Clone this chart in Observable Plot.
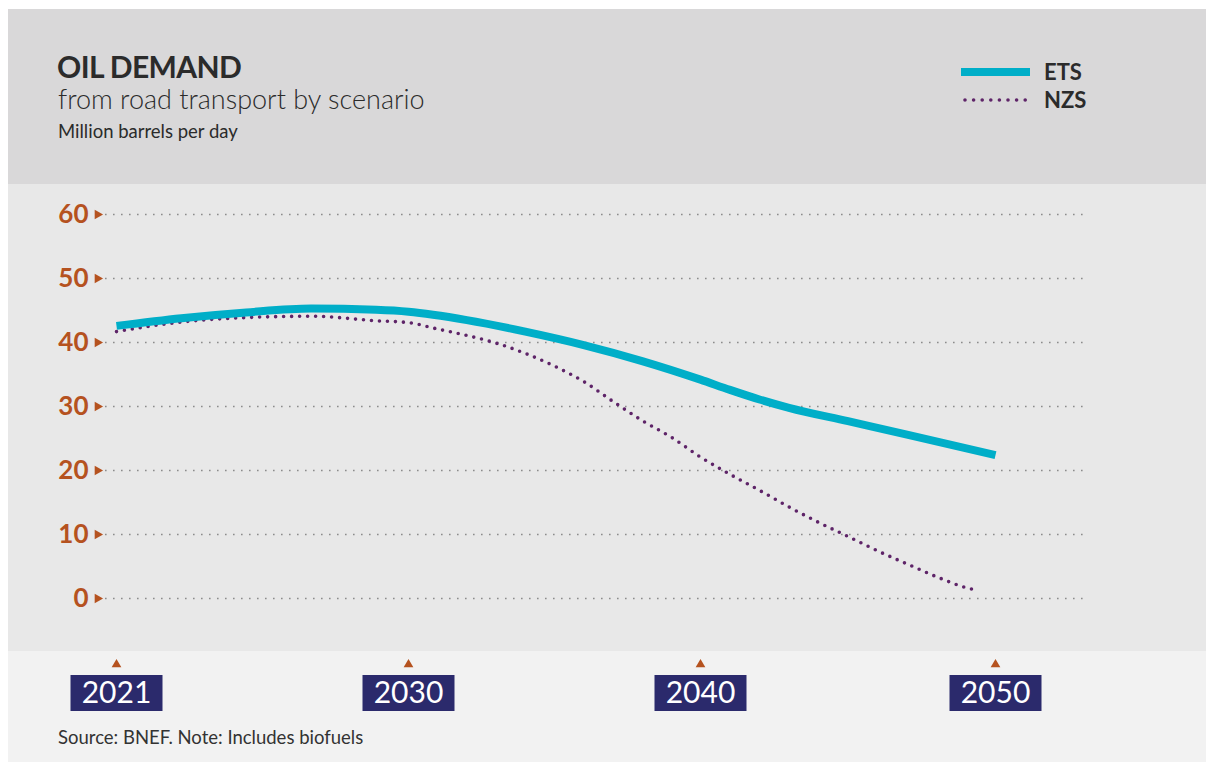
<!DOCTYPE html>
<html>
<head>
<meta charset="utf-8">
<script src="https://cdn.jsdelivr.net/npm/d3@7"></script>
<script src="https://cdn.jsdelivr.net/npm/@observablehq/plot@0.6"></script>
<style>
  body { margin: 0; background: #ffffff; }
  #root { position: relative; width: 1206px; height: 762px; font-family: Lato, "Open Sans", sans-serif; color: #2b2b2b; overflow: hidden; }
  .abs { position: absolute; }
  .panel { position: absolute; left: 8px; width: 1198px; }
  svg { overflow: visible; }
</style>
</head>
<body>
<div id="root">
  <div class="panel" style="top:9px;height:175px;background:#d9d8d9"></div>
  <div class="panel" style="top:184px;height:467px;background:#e8e8e8"></div>
  <div class="panel" style="top:651px;height:111px;background:#f2f2f2"></div>

  <div class="abs" style="left:57px;top:48px;font-size:30px;font-weight:700;letter-spacing:-0.6px;line-height:1.2">OIL DEMAND</div>
  <div class="abs" style="left:58px;top:83px;font-size:27px;font-weight:300;line-height:1.2">from road transport by scenario</div>
  <div class="abs" style="left:58px;top:120px;font-size:18.5px;font-weight:400;line-height:1.2">Million barrels per day</div>

  <div id="legend" class="abs" style="left:0;top:0;"></div>

  <div id="chart" class="abs" style="left:0;top:184px;"></div>
  <div id="xaxis" class="abs" style="left:0;top:651px;"></div>

  <div class="abs" style="left:58px;top:726px;font-size:18.5px;font-weight:400;line-height:1.2;color:#333">Source: BNEF. Note: Includes biofuels</div>
</div>
<script>
// ---- Data ----
const seriesNames = ["ETS", "NZS"];
const etsYears = [2021, 2023, 2025, 2027, 2029, 2030, 2032, 2034, 2036, 2038, 2040, 2041, 2042, 2043, 2045, 2047, 2050];
const etsValues = [42.6, 43.8, 44.7, 45.3, 45.1, 44.8, 43.5, 41.7, 39.6, 37.1, 34.2, 32.6, 31.1, 29.8, 27.7, 25.6, 22.4];
const nzsYears = [2021, 2023, 2025, 2027, 2029, 2030, 2031, 2032, 2033, 2034, 2035, 2036, 2037, 2038, 2039, 2040, 2041, 2042, 2043, 2044, 2045, 2046, 2047, 2048, 2049, 2049.4];
const nzsValues = [41.7, 43.2, 43.9, 44.1, 43.4, 43.1, 42.1, 41.1, 39.9, 38.3, 36.3, 33.9, 30.8, 27.8, 25.2, 22.1, 19.4, 16.9, 14.3, 11.9, 9.7, 7.45, 5.4, 3.4, 1.7, 1.25];
const yTicks = [0, 10, 20, 30, 40, 50, 60];
const xTicks = [2021, 2030, 2040, 2050];

// ---- Styles ----
const ETS_COLOR = "#00aec8";
const NZS_COLOR = "#5e2468";
const TICK_COLOR = "#b5521f";
const BOX_COLOR = "#2b2a6c";

const ets = etsYears.map((year, i) => ({year, value: etsValues[i]}));
const nzs = nzsYears.map((year, i) => ({year, value: nzsValues[i]}));

const xScale = {type: "linear", domain: [2021, 2030, 2040, 2050], range: [116, 408, 700, 995], axis: null};

const chart = Plot.plot({
  width: 1206,
  height: 467,
  marginTop: 30,
  marginBottom: 53,
  marginLeft: 105,
  marginRight: 121,
  style: {background: "transparent", fontFamily: "Lato, sans-serif", overflow: "visible"},
  x: xScale,
  y: {domain: [0, 60], axis: null},
  marks: [
    Plot.ruleY(yTicks, {y: d => d, stroke: "#8c8c8c", strokeWidth: 1.6, strokeDasharray: "1.6 6.4"}),
    Plot.dot(yTicks, {y: d => d, frameAnchor: "left", dx: -8, symbol: "triangle", rotate: 90, r: 3.6, fill: TICK_COLOR, stroke: "none"}),
    Plot.text(yTicks, {y: d => d, text: d => String(d), frameAnchor: "left", dx: -17, textAnchor: "end", fill: TICK_COLOR, fontSize: 26, fontWeight: 700}),
    Plot.line(nzs, {x: "year", y: "value", curve: "monotone-x", stroke: NZS_COLOR, strokeWidth: 3.6, strokeDasharray: "0 8", strokeLinecap: "round"}),
    Plot.line(ets, {x: "year", y: "value", curve: "monotone-x", stroke: ETS_COLOR, strokeWidth: 8, strokeLinecap: "butt"})
  ]
});
document.getElementById("chart").appendChild(chart);

const xaxis = Plot.plot({
  width: 1206,
  height: 111,
  marginTop: 24,
  marginBottom: 51,
  marginLeft: 0,
  marginRight: 0,
  style: {background: "transparent", fontFamily: "Lato, sans-serif", overflow: "visible"},
  x: xScale,
  marks: [
    Plot.ruleX(xTicks, {x: d => d, stroke: BOX_COLOR, strokeWidth: 92}),
    Plot.dot(xTicks, {x: d => d, frameAnchor: "top", dy: -11, symbol: "triangle", r: 3.6, fill: TICK_COLOR, stroke: "none"}),
    Plot.text(xTicks, {x: d => d, text: d => String(d), frameAnchor: "middle", fill: "#ffffff", fontSize: 30, fontWeight: 400})
  ]
});
document.getElementById("xaxis").appendChild(xaxis);

// ---- Legend ----
const legendItems = [
  {name: seriesNames[0], color: ETS_COLOR, width: 8, dash: null, cap: "butt", y: 72},
  {name: seriesNames[1], color: NZS_COLOR, width: 3.6, dash: "0 8.6", cap: "round", y: 100}
];
const legend = d3.select("#legend").append("svg").attr("width", 1206).attr("height", 130);
legendItems.forEach(it => {
  legend.append("line")
    .attr("x1", it.dash ? 965 : 961).attr("x2", 1030)
    .attr("y1", it.y).attr("y2", it.y)
    .attr("stroke", it.color).attr("stroke-width", it.width)
    .attr("stroke-linecap", it.cap)
    .attr("stroke-dasharray", it.dash);
  legend.append("text")
    .attr("x", 1044).attr("y", it.y).attr("dy", "0.36em")
    .attr("font-family", "Lato, sans-serif").attr("font-weight", 700).attr("font-size", 22)
    .attr("fill", "#2b2b2b")
    .text(it.name);
});
</script>
</body>
</html>
